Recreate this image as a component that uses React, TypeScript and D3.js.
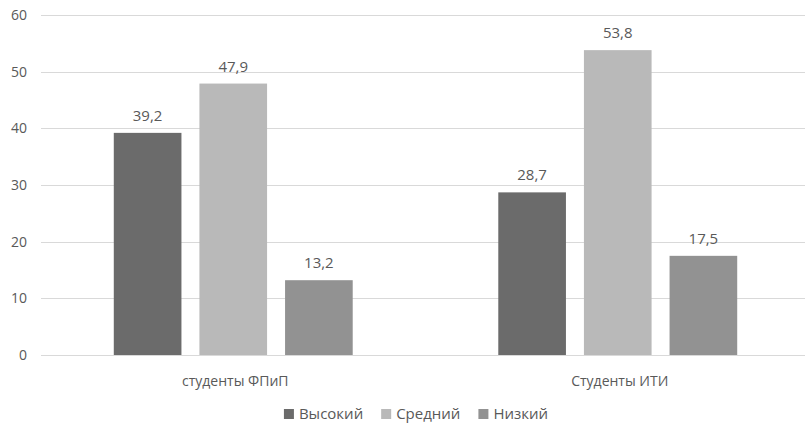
import { useEffect, useRef } from 'react';
import * as d3 from 'd3';

const categories = ['студенты ФПиП', 'Студенты ИТИ'];
const seriesNames = ['Высокий', 'Средний', 'Низкий'];
const seriesColors = ['#6b6b6b', '#b9b9b9', '#929292'];
const values = [
  [39.2, 47.9, 13.2],
  [28.7, 53.8, 17.5],
];
const yTicks = [0, 10, 20, 30, 40, 50, 60];

const FONT = '"Open Sans", sans-serif';

export default function App() {
  const svgRef = useRef<SVGSVGElement>(null);
  const width = 805;
  const height = 424;

  useEffect(() => {
    if (!svgRef.current) return;
    const svg = d3.select(svgRef.current);
    svg.selectAll('*').remove();

    const margin = { top: 15, left: 41, right: -5, bottom: 69 };
    const innerH = height - margin.top - margin.bottom;

    const x0 = d3.scaleBand<string>()
      .domain(categories)
      .range([margin.left, width - margin.right]);

    const x1 = d3.scaleBand<string>()
      .domain(seriesNames)
      .range([0, x0.bandwidth()])
      .paddingInner(0.21)
      .paddingOuter(0.85);

    const y = d3.scaleLinear()
      .domain([0, 60])
      .range([margin.top + innerH, margin.top]);

    // Gridlines
    svg.append('g')
      .selectAll('line')
      .data(yTicks)
      .enter()
      .append('line')
      .attr('x1', margin.left)
      .attr('x2', width)
      .attr('y1', d => Math.round(y(d)) + 0.5)
      .attr('y2', d => Math.round(y(d)) + 0.5)
      .attr('stroke', '#d9d9d9')
      .attr('stroke-width', 1);

    // Y labels
    svg.append('g')
      .selectAll('text')
      .data(yTicks)
      .enter()
      .append('text')
      .attr('x', 27)
      .attr('y', d => y(d))
      .attr('dy', '0.35em')
      .attr('text-anchor', 'end')
      .attr('fill', '#595959')
      .style('font-family', FONT)
      .style('font-size', '14px')
      .text(d => String(d));

    // Bars
    const groups = svg.append('g')
      .selectAll('g')
      .data(categories)
      .enter()
      .append('g')
      .attr('transform', d => `translate(${x0(d)},0)`);

    groups.selectAll('rect')
      .data((_, i) => values[i].map((v, j) => ({ key: seriesNames[j], v, j })))
      .enter()
      .append('rect')
      .attr('x', d => x1(d.key) as number)
      .attr('y', d => y(d.v))
      .attr('width', x1.bandwidth())
      .attr('height', d => y(0) - y(d.v))
      .attr('fill', d => seriesColors[d.j]);

    groups.selectAll('text')
      .data((_, i) => values[i].map((v, j) => ({ key: seriesNames[j], v, j })))
      .enter()
      .append('text')
      .attr('x', d => (x1(d.key) as number) + x1.bandwidth() / 2)
      .attr('y', d => y(d.v) - 12)
      .attr('text-anchor', 'middle')
      .attr('fill', '#595959')
      .style('font-family', FONT)
      .style('font-size', '15px')
      .text(d => d.v.toFixed(1).replace('.', ','));

    // Category labels
    svg.append('g')
      .selectAll('text')
      .data(categories)
      .enter()
      .append('text')
      .attr('x', d => (x0(d) as number) + x0.bandwidth() / 2 + 2)
      .attr('y', 386)
      .attr('text-anchor', 'middle')
      .attr('fill', '#595959')
      .style('font-family', FONT)
      .style('font-size', '14px')
      .text(d => d);

    // Legend
    const legend = svg.append('g');
    let lx = 0;
    seriesNames.forEach((name, i) => {
      const item = legend.append('g').attr('transform', `translate(${lx},0)`);
      item.append('rect')
        .attr('x', 0)
        .attr('y', -10)
        .attr('width', 10)
        .attr('height', 10)
        .attr('fill', seriesColors[i]);
      const t = item.append('text')
        .attr('x', 15)
        .attr('y', 0)
        .attr('fill', '#595959')
        .style('font-family', FONT)
        .style('font-size', '15px')
        .text(name);
      const w = (t.node() as SVGTextElement).getComputedTextLength();
      lx += 15 + w + 18;
    });
    const total = lx - 18;
    legend.attr('transform', `translate(${416 - total / 2},419)`);
  }, []);

  return (
    <svg
      ref={svgRef}
      width={width}
      height={height}
      style={{ position: 'absolute', left: 0, top: 0, background: '#fff' }}
    />
  );
}
